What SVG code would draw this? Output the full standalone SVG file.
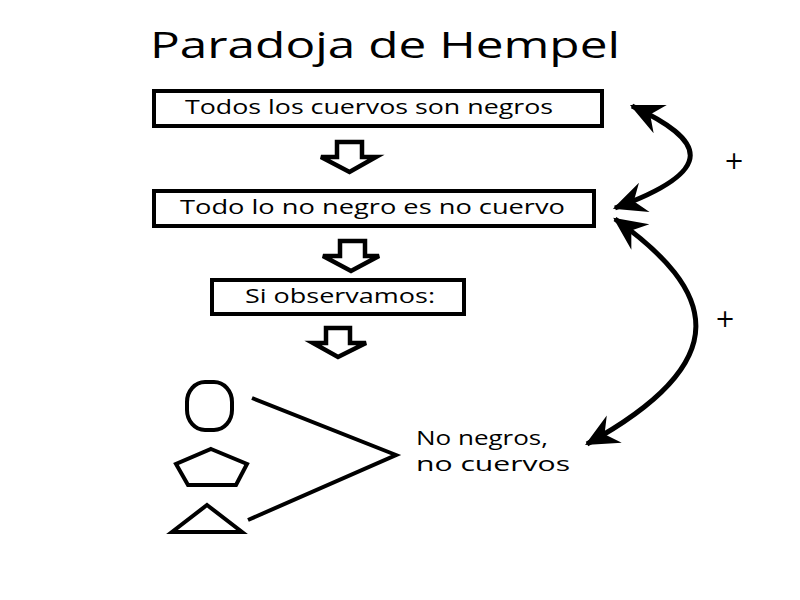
<svg xmlns="http://www.w3.org/2000/svg" width="800" height="600" viewBox="0 0 800 600">
<style>
text{font-family:"Open Sans","Noto Sans","DejaVu Sans",sans-serif;fill:#000}
.box{fill:#fff;stroke:#000;stroke-width:4}
.hollow{fill:#fff;stroke:#000;stroke-width:4.5;stroke-linejoin:miter}
.shape{fill:none;stroke:#000;stroke-width:4}
.con{fill:none;stroke:#000;stroke-width:4}
.curve{fill:none;stroke:#000;stroke-width:5}
.lbl{font-size:20px}
.plus{font-family:"DejaVu Sans",sans-serif;font-size:24px;text-anchor:middle}
</style>
<defs>
<marker id="barb" markerUnits="userSpaceOnUse" markerWidth="40" markerHeight="40" viewBox="-32 -16 36 32" refX="0" refY="0" orient="auto-start-reverse">
<path d="M2,0 L-28,-14 L-18,0 L-28,14 Z" fill="#000"/>
</marker>
</defs>
<rect width="800" height="600" fill="#fff"/>
<text id="title" x="150" y="58" font-size="36" textLength="470" lengthAdjust="spacingAndGlyphs">Paradoja de Hempel</text>
<g id="n1">
<rect class="box" x="154" y="91" width="448" height="35"/>
<text class="lbl" x="185" y="114" textLength="368" lengthAdjust="spacingAndGlyphs">Todos los cuervos son negros</text>
</g>
<g id="n2">
<rect class="box" x="154" y="191" width="440" height="35"/>
<text class="lbl" x="180" y="214" textLength="385" lengthAdjust="spacingAndGlyphs">Todo lo no negro es no cuervo</text>
</g>
<g id="n3">
<rect class="box" x="212" y="280" width="252" height="34"/>
<text class="lbl" x="245" y="303" textLength="190" lengthAdjust="spacingAndGlyphs">Si observamos:</text>
</g>
<g id="n4">
<rect class="shape" x="187" y="382" width="45" height="48" rx="18" ry="20"/>
<polygon class="shape" points="211,449 247,464 236,485 188,485 176,464"/>
<polygon class="shape" points="207,505 242,532 172,532"/>
</g>
<g id="n5">
<text class="lbl" x="416" y="445" textLength="132" lengthAdjust="spacingAndGlyphs">No negros,</text>
<text class="lbl" x="416" y="471" textLength="154" lengthAdjust="spacingAndGlyphs">no cuervos</text>
</g>
<g id="connectors">
<polygon class="hollow" points="337,142 362,142 362,157 376,157 349.5,172 321,157 337,157"/>
<polygon class="hollow" points="340,241 365,241 365,256 379,256 351,271 323,256 340,256"/>
<polygon class="hollow" points="326,328 350,328 350,343 366,343 338,357 313,343 326,343"/>
<polyline class="con" points="252,398 396,455 248,520"/>
<path class="curve" d="M632,106 C705,140 720,170 615,208" marker-start="url(#barb)" marker-end="url(#barb)"/>
<path class="curve" d="M615,219 C715,290 740,360 587,444" marker-start="url(#barb)" marker-end="url(#barb)"/>
<text class="plus" x="734" y="169">+</text>
<text class="plus" x="725" y="327">+</text>
</g>
</svg>
